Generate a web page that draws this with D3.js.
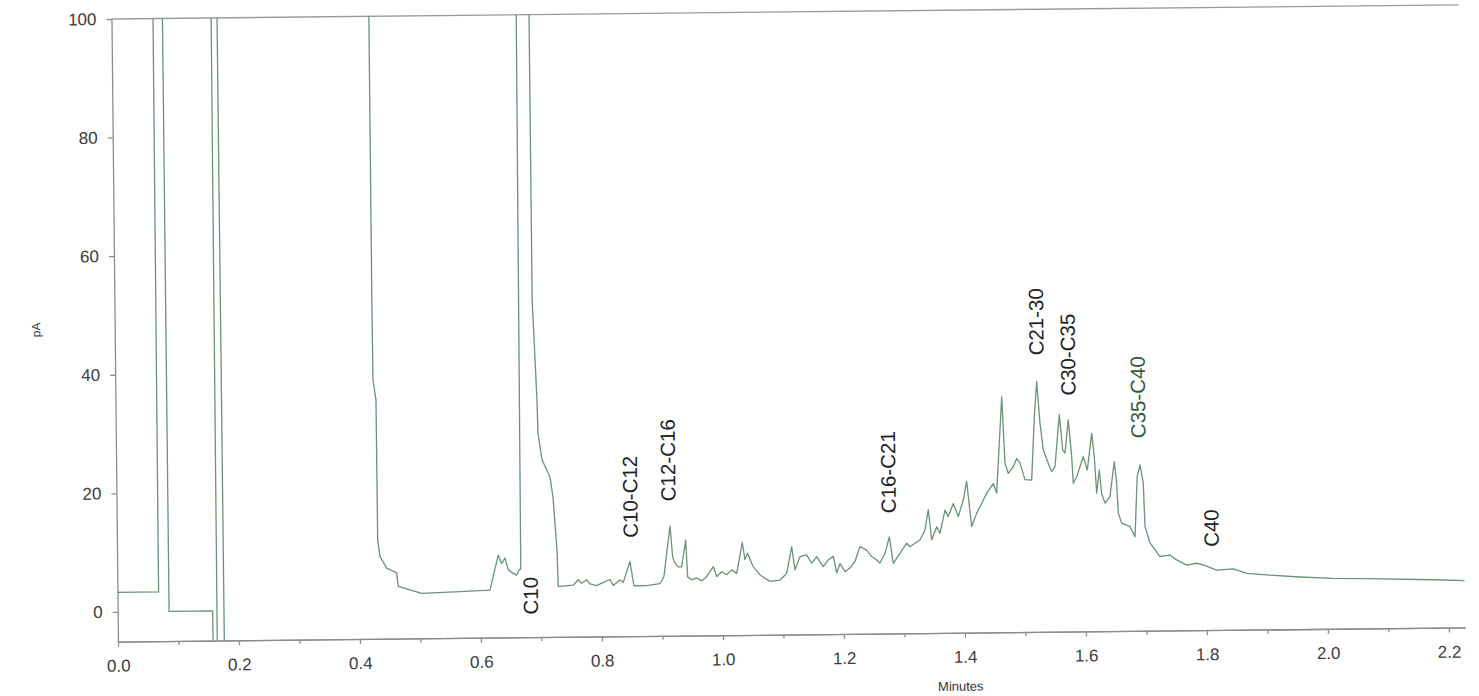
<!DOCTYPE html>
<html>
<head>
<meta charset="utf-8">
<script src="https://cdn.jsdelivr.net/npm/d3@7"></script>
<style>
  body { margin: 0; background: #ffffff; }
  svg { display: block; }
</style>
</head>
<body>
<div id="chart"></div>
<script>
// detector trace, [minutes, pA]; 140 / -20 = off scale, null = gap
var trace = [
  [0.000,3.3],[0.068,3.3],[0.069,140],[0.084,140],[0.085,0],[0.157,0],[0.158,-20],[0.164,-20],
  [0.165,140],[0.174,140],[0.176,-20],[0.300,null],
  [0.4255,140],[0.4255,52.2],[0.426,38.7],[0.4306,35.3],[0.431,11.7],[0.4345,8.9],[0.4454,6.9],
  [0.4618,6.1],[0.4642,3.8],[0.5028,2.6],[0.5661,2.8],[0.6157,3.0],
  [0.630,8.9],[0.6355,7.5],[0.6411,8.4],[0.6463,6.4],[0.6545,5.8],[0.6601,5.5],[0.6645,6.4],[0.667,6.5],[0.670,140],
  [0.690,140],[0.6905,51.9],[0.6967,35.0],[0.6978,29.4],[0.704,24.9],[0.7169,22.0],[0.7215,18.6],[0.7272,9.7],[0.7287,3.5],
  [0.7535,3.7],[0.7618,4.6],[0.7674,4.0],[0.7757,4.6],[0.7811,3.9],[0.7922,3.6],[0.8005,4.0],[0.8143,4.6],
  [0.8196,3.6],[0.8308,4.5],[0.8362,4.1],[0.8476,7.6],[0.8538,3.5],[0.8748,3.5],[0.8968,3.8],[0.9036,5.0],
  [0.9084,8.9],[0.9144,13.5],[0.9183,8.3],[0.9219,7.2],[0.9274,6.6],[0.933,6.6],[0.9401,11.1],[0.9427,4.9],
  [0.9493,4.4],[0.9576,4.7],[0.9658,4.2],[0.9741,4.9],[0.9852,6.6],[0.9907,4.9],[0.999,5.7],[1.0072,5.2],
  [1.0156,6.0],[1.0238,5.4],[1.0336,10.6],[1.0377,7.7],[1.0417,8.8],[1.0513,6.5],[1.0623,5.1],[1.0787,4.0],
  [1.0952,4.2],[1.1064,5.3],[1.1152,9.8],[1.1202,5.9],[1.1287,8.1],[1.1398,8.4],[1.1479,7.0],[1.1563,8.1],
  [1.167,6.4],[1.1754,7.5],[1.1838,8.1],[1.1891,5.3],[1.1947,6.9],[1.2028,5.5],[1.2112,6.1],[1.2195,7.2],
  [1.228,9.7],[1.2391,9.1],[1.2472,8.0],[1.2554,7.4],[1.2608,6.9],[1.2693,8.5],[1.2767,11.3],[1.2828,6.8],
  [1.2941,8.5],[1.3053,10.2],[1.3107,9.6],[1.3273,10.7],[1.3358,12.4],[1.3416,15.8],[1.3467,10.7],[1.3552,12.9],
  [1.3605,11.8],[1.3692,15.7],[1.3745,14.6],[1.383,16.8],[1.3911,14.6],[1.3996,17.4],[1.4055,20.5],[1.413,12.9],
  [1.4215,15.1],[1.43,16.8],[1.4384,18.5],[1.4495,20.1],[1.4549,18.5],[1.4649,34.7],[1.4692,23.5],[1.4744,21.8],
  [1.4828,22.9],[1.4886,24.3],[1.494,23.5],[1.5019,20.7],[1.513,20.6],[1.5184,31.3],[1.523,37.2],[1.5277,30.2],
  [1.5327,25.7],[1.5408,23.4],[1.5462,22.0],[1.5517,22.8],[1.5598,31.6],[1.5648,25.6],[1.5685,25.1],[1.5745,30.7],
  [1.5795,24.5],[1.5817,20.0],[1.5875,21.1],[1.5987,24.5],[1.6051,22.2],[1.613,28.4],[1.6169,24.5],[1.6202,18.3],
  [1.6249,22.2],[1.6285,18.2],[1.6338,16.6],[1.6421,17.7],[1.6498,23.6],[1.6534,19.9],[1.6556,14.9],[1.661,13.2],
  [1.6747,12.6],[1.6829,10.9],[1.6874,21.0],[1.6923,23.0],[1.6974,19.9],[1.6995,12.6],[1.7075,9.8],[1.7237,7.5],
  [1.7403,7.7],[1.7513,6.9],[1.7677,6.0],[1.7843,6.3],[1.7952,6.0],[1.8172,5.1],[1.8447,5.3],[1.8668,4.5],
  [1.8998,4.2],[1.9548,3.8],[2.0098,3.5],[2.065,3.4],[2.1751,3.1],[2.227,2.9]
];

// peak group labels, placed at [minutes, pA] of the label centre
var peakNames = ["C10", "C10-C12", "C12-C16", "C16-C21", "C21-30", "C30-C35", "C35-C40", "C40"];
var peakTimes = [0.683, 0.849, 0.912, 1.276, 1.523, 1.575, 1.690, 1.809];
var peakLevels = [2.0, 18.5, 24.6, 22.2, 47.3, 41.7, 34.4, 12.2];

var xTicks = [0.0, 0.2, 0.4, 0.6, 0.8, 1.0, 1.2, 1.4, 1.6, 1.8, 2.0, 2.2];
var xMinorTicks = [0.1, 0.3, 0.5, 0.7, 0.9, 1.1, 1.3, 1.5, 1.7, 1.9, 2.1];
var yTicks = [0, 20, 40, 60, 80, 100];

var width = 1479;
var height = 696;
var font = "'Liberation Sans', Arial, sans-serif";
var axisColor = "#8c8c8c";
var traceColor = "#6a9377";

var x = d3.scaleLinear().domain([0, 2.227]).range([114.7, 1462]);
var y = d3.scaleLinear().domain([-5, 100]).range([634.5, 11.9]);

var svg = d3.select("#chart")
    .append("svg")
    .attr("width", width)
    .attr("height", height)
    .style("font-family", font);

svg.append("rect")
    .attr("width", width)
    .attr("height", height)
    .style("fill", "#ffffff");

// the scanned sheet is tilted a little
var holder = svg.append("g")
    .attr("transform", "rotate(-0.6, 790, 325)");

holder.append("clipPath")
    .attr("id", "plotClip")
    .append("rect")
    .attr("x", x(0))
    .attr("y", y(100))
    .attr("width", x(2.227) - x(0))
    .attr("height", y(-5) - y(100));

// top frame line at 100 pA
holder.append("line")
    .attr("x1", x(0))
    .attr("x2", x(2.227))
    .attr("y1", y(100))
    .attr("y2", y(100))
    .style("stroke", "#9a9a9a")
    .style("stroke-width", 1.3);

// y axis
var yAxis = holder.append("g")
    .attr("transform", "translate(" + x(0) + ",0)")
    .call(d3.axisLeft(y).tickValues(yTicks).tickSize(5).tickSizeOuter(0).tickPadding(10)
        .tickFormat(d3.format("d")));

// x axis, minor ticks first
holder.append("g")
    .attr("transform", "translate(0," + y(-5) + ")")
    .call(d3.axisBottom(x).tickValues(xMinorTicks).tickSize(4).tickSizeOuter(0).tickFormat(""));

var xAxis = holder.append("g")
    .attr("transform", "translate(0," + y(-5) + ")")
    .call(d3.axisBottom(x).tickValues(xTicks).tickSize(5).tickSizeOuter(0).tickPadding(13)
        .tickFormat(d3.format(".1f")));

holder.selectAll(".domain, .tick line")
    .style("stroke", axisColor)
    .style("stroke-width", 1.3);

holder.selectAll(".tick text")
    .style("font-family", font)
    .style("font-size", "17px")
    .style("fill", "#3c3c3c");

// axis titles
holder.append("text")
    .attr("transform", "translate(36,322) rotate(-90)")
    .attr("text-anchor", "middle")
    .attr("dy", ".35em")
    .style("font-size", "12px")
    .style("fill", "#444")
    .text("pA");

holder.append("text")
    .attr("x", 957)
    .attr("y", 688)
    .attr("text-anchor", "middle")
    .attr("dy", ".35em")
    .style("font-size", "13px")
    .style("fill", "#333")
    .text("Minutes");

// the trace
var line = d3.line()
    .defined(function (d) { return d[1] !== null; })
    .x(function (d) { return x(d[0]); })
    .y(function (d) { return y(d[1]); });

holder.append("path")
    .datum(trace)
    .attr("clip-path", "url(#plotClip)")
    .attr("d", line)
    .style("fill", "none")
    .style("stroke", traceColor)
    .style("stroke-width", 1.3)
    .style("stroke-linejoin", "round");

// peak labels
holder.selectAll(".peakLabel")
    .data(peakNames)
    .enter()
    .append("text")
    .attr("class", "peakLabel")
    .attr("transform", function (d, i) {
        return "translate(" + x(peakTimes[i]) + "," + y(peakLevels[i]) + ") rotate(-90)";
    })
    .attr("text-anchor", "middle")
    .attr("dy", ".35em")
    .style("font-size", "20.5px")
    .style("fill", function (d) { return d === "C35-C40" ? "#2f5c3a" : "#222"; })
    .text(function (d) { return d; });
</script>
</body>
</html>
